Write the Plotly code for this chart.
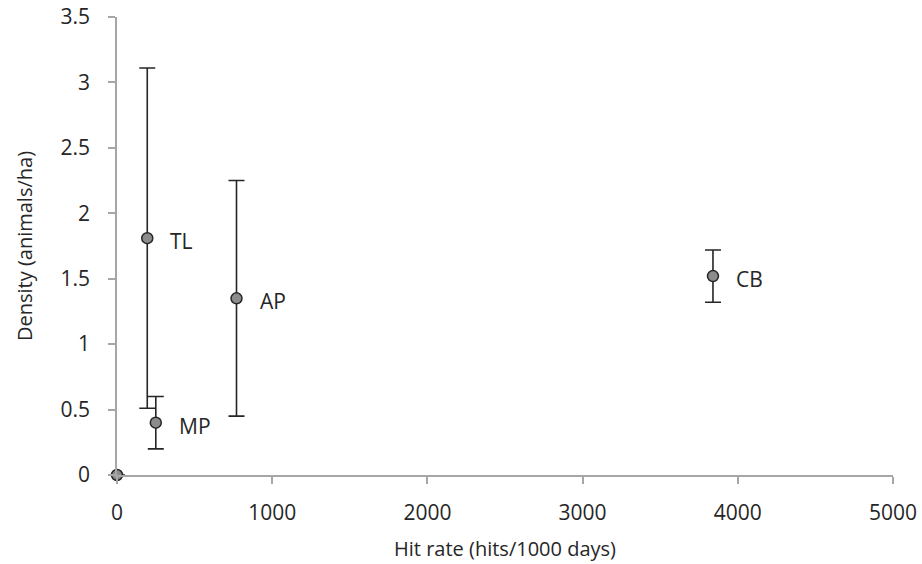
import plotly.graph_objects as go

labels = ["", "TL", "AP", "MP", "CB"]
hit_rate = [0, 195, 770, 250, 3840]
density = [0, 1.81, 1.35, 0.40, 1.52]
err = [0, 1.30, 0.90, 0.20, 0.20]

FONT = "Open Sans"
fig = go.Figure()
fig.add_trace(go.Scatter(
    x=hit_rate, y=density, mode="markers",
    marker=dict(size=11, color="#8c8c8c", line=dict(color="#262626", width=1.5)),
    error_y=dict(type="data", array=err, visible=True, color="#262626", thickness=1.6, width=8),
    cliponaxis=False, showlegend=False,
))
for xv, yv, lab in zip(hit_rate, density, labels):
    if lab:
        fig.add_annotation(x=xv, y=yv, text=lab, showarrow=False, xanchor="left",
                           xshift=21, yshift=-3, font=dict(family=FONT, size=21, color="#262626"))

axis_common = dict(showline=True, linecolor="#a6a6a6", linewidth=1.5, ticks="outside",
                   tickcolor="#a6a6a6", ticklen=7, tickwidth=1.5, showgrid=False, zeroline=False,
                   automargin=False, ticklabeloverflow="allow",
                   tickfont=dict(family=FONT, size=21, color="#262626"))
fig.update_xaxes(range=[0, 5000], tickvals=[0, 1000, 2000, 3000, 4000, 5000],
                 title=dict(text="Hit rate (hits/1000 days)", font=dict(family=FONT, size=20, color="#262626"), standoff=17),
                 ticklabelstandoff=11, **axis_common)
fig.update_yaxes(range=[0, 3.5], tickvals=[0, 0.5, 1, 1.5, 2, 2.5, 3, 3.5],
                 ticktext=["0", "0.5", "1", "1.5", "2", "2.5", "3", "3.5"],
                 title=dict(text="Density (animals/ha)", font=dict(family=FONT, size=20, color="#262626"), standoff=23),
                 ticklabelstandoff=14, **axis_common)
fig.update_layout(width=922, height=564, margin=dict(l=117, r=29, t=17, b=89),
                  plot_bgcolor="white", paper_bgcolor="white")
fig.write_html("out.html", config={"displayModeBar": False},
               post_script="document.body.style.margin='0';document.body.style.overflow='hidden';")
